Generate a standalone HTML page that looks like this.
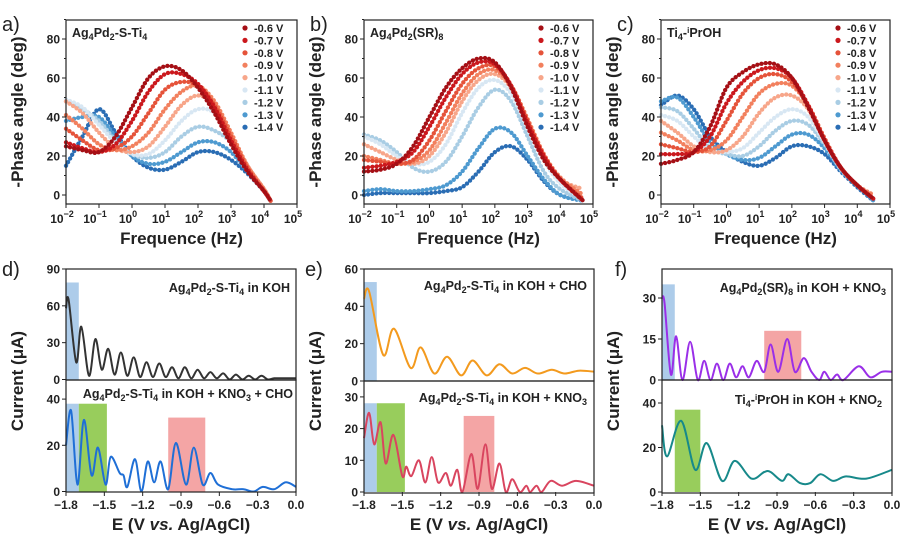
<!DOCTYPE html>
<html><head><meta charset="utf-8"><style>
body{margin:0;background:#fff}
svg{display:block;font-family:"Liberation Sans",Arial,sans-serif}
.tk{font-size:12px;font-weight:bold;fill:#222}
.ti{font-size:17px;font-weight:bold;fill:#222}
.an{font-size:12.5px;font-weight:bold;fill:#222}
.lg{font-size:11px;font-weight:bold;fill:#222}
.pl{font-size:20px;fill:#222}
</style></head><body>
<svg id="fig" width="923" height="546" viewBox="0 0 923 546">
<g id="shade"></g><g id="data"></g><g id="axes"></g>
<g id="labels">
<text class="pl" x="2" y="31">a)</text>
<text class="pl" x="310" y="31">b)</text>
<text class="pl" x="617" y="31">c)</text>
<text class="pl" x="2" y="276">d)</text>
<text class="pl" x="305" y="276">e)</text>
<text class="pl" x="615" y="276">f)</text>
<text class="an" x="72" y="37">Ag<tspan font-size="9" dy="3">4</tspan><tspan dy="-3">Pd</tspan><tspan font-size="9" dy="3">2</tspan><tspan dy="-3">-S-Ti</tspan><tspan font-size="9" dy="3">4</tspan></text>
<text class="an" x="370" y="37">Ag<tspan font-size="9" dy="3">4</tspan><tspan dy="-3">Pd</tspan><tspan font-size="9" dy="3">2</tspan><tspan dy="-3">(SR)</tspan><tspan font-size="9" dy="3">8</tspan></text>
<text class="an" x="667" y="37">Ti<tspan font-size="9" dy="3">4</tspan><tspan dy="-3">-</tspan><tspan font-size="8" dy="-4">i</tspan><tspan dy="4">PrOH</tspan></text>
<text class="an" x="290" y="292" text-anchor="end">Ag<tspan font-size="9" dy="3">4</tspan><tspan dy="-3">Pd</tspan><tspan font-size="9" dy="3">2</tspan><tspan dy="-3">-S-Ti</tspan><tspan font-size="9" dy="3">4</tspan><tspan dy="-3"> in KOH</tspan></text>
<text class="an" x="293" y="398" text-anchor="end">Ag<tspan font-size="9" dy="3">4</tspan><tspan dy="-3">Pd</tspan><tspan font-size="9" dy="3">2</tspan><tspan dy="-3">-S-Ti</tspan><tspan font-size="9" dy="3">4</tspan><tspan dy="-3"> in KOH + KNO</tspan><tspan font-size="9" dy="3">3</tspan><tspan dy="-3"> + CHO</tspan></text>
<text class="an" x="587" y="290" text-anchor="end">Ag<tspan font-size="9" dy="3">4</tspan><tspan dy="-3">Pd</tspan><tspan font-size="9" dy="3">2</tspan><tspan dy="-3">-S-Ti</tspan><tspan font-size="9" dy="3">4</tspan><tspan dy="-3"> in KOH + CHO</tspan></text>
<text class="an" x="587" y="402" text-anchor="end">Ag<tspan font-size="9" dy="3">4</tspan><tspan dy="-3">Pd</tspan><tspan font-size="9" dy="3">2</tspan><tspan dy="-3">-S-Ti</tspan><tspan font-size="9" dy="3">4</tspan><tspan dy="-3"> in KOH + KNO</tspan><tspan font-size="9" dy="3">3</tspan></text>
<text class="an" x="886" y="292" text-anchor="end">Ag<tspan font-size="9" dy="3">4</tspan><tspan dy="-3">Pd</tspan><tspan font-size="9" dy="3">2</tspan><tspan dy="-3">(SR)</tspan><tspan font-size="9" dy="3">8</tspan><tspan dy="-3"> in KOH + KNO</tspan><tspan font-size="9" dy="3">3</tspan></text>
<text class="an" x="882" y="404" text-anchor="end">Ti<tspan font-size="9" dy="3">4</tspan><tspan dy="-3">-</tspan><tspan font-size="8" dy="-4">i</tspan><tspan dy="4">PrOH in KOH + KNO</tspan><tspan font-size="9" dy="3">2</tspan></text>
</g>
</svg>
<script>
const NS="http://www.w3.org/2000/svg";
// ---- data: Bode phase (log10 frequency, -phase deg) ----
const legendLabels=["-0.6 V","-0.7 V","-0.8 V","-0.9 V","-1.0 V","-1.1 V","-1.2 V","-1.3 V","-1.4 V"];
const seriesColors=["#a50f15","#cb181d","#e5533a","#f2805e","#f7a68a","#d8e7f3","#a9cde4","#4e9ad0","#2a6db4"];
const logFreqA=[-2,-1.5,-1,-0.5,0,0.5,1,1.5,2,2.5,3,3.5,4,4.2];
const phaseA=[
[25,23,22,30,45,60,66,64,55,42,26,12,2,-3],
[27,24,22,26,38,53,62,62,57,45,28,13,2,-3],
[34,28,23,24,30,42,54,58,56,46,30,14,2,-3],
[41,34,26,23,25,32,44,53,56,48,32,15,3,-3],
[48,42,32,24,22,25,35,46,51,46,30,15,3,-3],
[49,45,36,27,21,21,28,38,44,42,30,15,3,-3],
[48,44,38,28,21,19,22,30,35,33,27,14,3,-3],
[38,40,40,30,20,16,17,22,27,27,22,12,2,-3],
[15,30,44,32,20,14,13,17,22,22,18,11,2,-3]];
const logFreqB=[-2,-1.5,-1,-0.5,0,0.5,1,1.5,2,2.5,3,3.5,4,4.7];
const phaseB=[
[12,13,16,25,40,55,65,70,68,55,35,18,8,-3],
[14,15,17,22,35,50,62,68,67,56,37,20,8,-3],
[18,17,16,18,28,43,57,65,66,56,38,20,8,-2],
[20,18,16,17,23,37,52,62,64,56,39,21,9,0],
[26,22,18,16,20,32,48,59,62,55,38,20,8,3],
[30,26,20,16,17,26,42,55,59,52,35,18,6,-2],
[31,28,22,14,12,17,30,45,54,48,30,12,3,-3],
[2,3,2,2,3,5,12,24,34,32,20,8,0,-3],
[0,1,1,1,1,2,4,12,22,25,18,7,0,-3]];
const logFreqC=[-2,-1.5,-1,-0.5,0,0.5,1,1.5,2,2.5,3,3.5,4,4.5];
const phaseC=[
[16,18,22,35,55,63,67,67,60,45,28,14,5,-2],
[21,21,22,30,47,58,64,65,60,46,28,14,5,-2],
[26,24,22,25,38,52,60,62,58,46,29,14,5,-2],
[32,28,23,23,28,40,52,57,56,46,29,14,5,0],
[38,32,25,22,23,30,42,50,51,44,28,14,5,0],
[41,38,30,23,22,24,32,40,44,40,27,14,5,-2],
[45,43,34,24,21,20,25,33,38,36,26,13,5,-2],
[48,50,40,27,21,18,19,25,31,31,24,13,5,-3],
[46,51,44,30,22,17,15,19,25,25,21,12,4,-3]];
const phaseTicks=[0,20,40,60,80];
const freqTicks=[-2,-1,0,1,2,3,4,5];
// ---- data: current vs potential ----
const potTicks=[-1.8,-1.5,-1.2,-0.9,-0.6,-0.3,0.0];
const dTopE=[-1.8,-1.78,-1.72,-1.68,-1.62,-1.57,-1.52,-1.47,-1.42,-1.37,-1.32,-1.27,-1.22,-1.17,-1.12,-1.07,-1.02,-0.97,-0.92,-0.87,-0.82,-0.77,-0.72,-0.67,-0.62,-0.57,-0.52,-0.47,-0.42,-0.37,-0.32,-0.27,-0.22,-0.17,-0.1,0];
const dTopI=[58,65,14,43,3,33,8,25,4,22,3,18,2,14,2,13,2,10,1,10,1,8,1,6,1,5,0,4,0,3,0,3,0,1,1,1];
const dBotE=[-1.8,-1.76,-1.71,-1.66,-1.6,-1.55,-1.49,-1.45,-1.38,-1.35,-1.32,-1.26,-1.21,-1.16,-1.11,-1.06,-1.0,-0.94,-0.86,-0.8,-0.73,-0.67,-0.61,-0.5,-0.41,-0.33,-0.26,-0.17,-0.08,0];
const dBotI=[20,35,3,31,7,19,3,15,8,7,2,14,0,13,4,13,1,21,3,19,3,8,3,1,1,0,2,1,4,2];
const eTopE=[-1.8,-1.76,-1.65,-1.565,-1.435,-1.356,-1.25,-1.15,-1.04,-0.95,-0.84,-0.74,-0.64,-0.54,-0.44,-0.33,-0.23,-0.12,0];
const eTopI=[44,48,14,28,7,18,4,13,3,11,3,9,4,7,4,6,4,5.5,5];
const eBotE=[-1.8,-1.76,-1.72,-1.67,-1.63,-1.57,-1.5,-1.47,-1.43,-1.37,-1.32,-1.27,-1.22,-1.16,-1.12,-1.07,-1.03,-0.96,-0.91,-0.85,-0.8,-0.74,-0.69,-0.64,-0.58,-0.53,-0.5,-0.45,-0.41,-0.34,-0.25,-0.14,0];
const eBotI=[17,25,15,22,9,18,5,8,5,10,3,11,3,6,2,7,0,12,1,15,1,9,0,4,0,2,0,2,0,3.5,2,3.5,2];
const fTopE=[-1.8,-1.78,-1.73,-1.69,-1.64,-1.58,-1.52,-1.47,-1.42,-1.37,-1.32,-1.27,-1.22,-1.17,-1.12,-1.06,-1.0,-0.95,-0.89,-0.82,-0.76,-0.69,-0.63,-0.57,-0.53,-0.48,-0.43,-0.38,-0.26,-0.17,-0.08,0];
const fTopI=[30,28,2,16,0,14,0,7,0,6,0,6,1,5,1,7,3,13,3,15,3,8,3,0,3,0,2,0,5,1,3,3];
const fBotE=[-1.8,-1.76,-1.65,-1.54,-1.45,-1.33,-1.23,-1.1,-1.0,-0.95,-0.86,-0.81,-0.72,-0.64,-0.56,-0.46,-0.36,-0.2,0];
const fBotI=[30,16,32,10,22,5,14,6,9,9,5,8,4,4,8,5,7,6,10];

const $=id=>document.getElementById(id);
function el(tag,attrs,parent,txt){const e=document.createElementNS(NS,tag);for(const k in attrs)e.setAttribute(k,attrs[k]);if(txt!==undefined)e.textContent=txt;parent.appendChild(e);return e;}
function smooth(pts){let d="M"+pts[0][0].toFixed(1)+","+pts[0][1].toFixed(1);
 for(let i=0;i<pts.length-1;i++){const p0=pts[Math.max(0,i-1)],p1=pts[i],p2=pts[i+1],p3=pts[Math.min(pts.length-1,i+2)];
 const c1=[p1[0]+(p2[0]-p0[0])/6,p1[1]+(p2[1]-p0[1])/6],c2=[p2[0]-(p3[0]-p1[0])/6,p2[1]-(p3[1]-p1[1])/6];
 d+="C"+c1.map(v=>v.toFixed(1))+" "+c2.map(v=>v.toFixed(1))+" "+p2[0].toFixed(1)+","+p2[1].toFixed(1);}return d;}
const axes=$("axes"),data=$("data"),shade=$("shade");

// ---- Bode panels ----
const bode=[{id:"a",x0:66,x1:297,lf:logFreqA,ph:phaseA},{id:"b",x0:364,x1:593,lf:logFreqB,ph:phaseB},{id:"c",x0:661,x1:890,lf:logFreqC,ph:phaseC}];
bode.forEach(P=>{
 const xs=v=>P.x0+(v+2)/7*(P.x1-P.x0), ys=v=>195-v*1.95;
 const g=el("g",{},data);
 
 
 for(let s=P.ph.length-1;s>=0;s--){
  const pts=P.lf.map((f,i)=>[xs(f),ys(P.ph[s][i])]);
  const p=el("path",{d:smooth(pts),fill:"none",stroke:seriesColors[s],"stroke-width":4.3,"stroke-linecap":"round","stroke-dasharray":"0.1 4.1"},g);
  
  
 }
 const box=el("rect",{x:P.x0,y:20,width:P.x1-P.x0,height:184,fill:"none",stroke:"#222","stroke-width":1.2},axes);
 
 
 phaseTicks.forEach(t=>{el("line",{x1:P.x0-4,x2:P.x0,y1:ys(t),y2:ys(t),stroke:"#222"},axes);
  const tx=el("text",{x:P.x0-6,y:ys(t)+4.5,class:"tk","text-anchor":"end"},axes,String(t));
  
  
  el("line",{x1:P.x0-2,x2:P.x0,y1:ys(t+10),y2:ys(t+10),stroke:"#222"},axes);});
 freqTicks.forEach(t=>{el("line",{x1:xs(t),x2:xs(t),y1:204,y2:208},axes).setAttribute("stroke","#222");
  const tx=el("text",{x:xs(t)-4,y:223,class:"tk","text-anchor":"middle"},axes,"10");
  
  
  el("tspan",{dy:-6,"font-size":9},tx,String(t).replace("-","\u2212"));});
 const xt=el("text",{x:(P.x0+P.x1)/2,y:244,class:"ti","text-anchor":"middle"},axes,"Frequence (Hz)");
 
 
 const cx=P.x0-43;
 const yt=el("text",{x:cx,y:112,class:"ti","text-anchor":"middle",transform:"rotate(-90 "+cx+" 112)"},axes,"-Phase angle (deg)");
 
 
 legendLabels.forEach((L,i)=>{const yy=28+i*12.4;const lx=P.x1-52;
  const c=el("circle",{cx:lx,cy:yy,r:2.6,fill:seriesColors[i]},axes);
  
  
  const t=el("text",{x:lx+9,y:yy+4,class:"lg"},axes,L);
  
  });
});

// ---- Current panels ----
const BLUE="#9fc3e6",GREEN="#86c440",RED="#f29595";
const cur=[
 {id:"d",x0:66,x1:296,top:{y0:269,y1:380,zero:379.5,sc:1.228,ticks:[0,30,60,90],E:dTopE,I:dTopI,c:"#333",box:[[-1.8,-1.7,79,BLUE]]},
  bot:{y0:380,y1:492,zero:491.5,sc:2.31,ticks:[0,20,40],E:dBotE,I:dBotI,c:"#1f6fd6",box:[[-1.8,-1.7,38,BLUE],[-1.7,-1.48,38,GREEN],[-1.0,-0.71,32,RED]]}},
 {id:"e",x0:364,x1:594,top:{y0:269,y1:381,zero:381,sc:1.867,ticks:[0,20,40,60],E:eTopE,I:eTopI,c:"#f39a1e",box:[[-1.8,-1.7,53,BLUE]]},
  bot:{y0:381,y1:493,zero:492,sc:3.17,ticks:[0,10,20,30],E:eBotE,I:eBotI,c:"#d9455f",box:[[-1.8,-1.7,28,BLUE],[-1.7,-1.48,28,GREEN],[-1.02,-0.78,24,RED]]}},
 {id:"f",x0:662,x1:892,top:{y0:269,y1:380,zero:380,sc:2.733,ticks:[0,15,30],E:fTopE,I:fTopI,c:"#9a2fe8",box:[[-1.8,-1.7,35,BLUE],[-1.0,-0.71,18,RED]]},
  bot:{y0:380,y1:493,zero:492,sc:2.225,ticks:[0,20,40],E:fBotE,I:fBotI,c:"#17898a",box:[[-1.7,-1.5,37,GREEN]]}}];
cur.forEach(P=>{
 const xs=v=>P.x0+(v+1.8)/1.8*(P.x1-P.x0);
 ["top","bot"].forEach(k=>{const S=P[k];const ys=v=>S.zero-v*S.sc;
  S.box.forEach(b=>{const r=el("rect",{x:xs(b[0]),y:ys(b[2]),width:xs(b[1])-xs(b[0]),height:S.zero-ys(b[2]),fill:b[3],opacity:0.85},shade);
   
   });
  const pts=S.E.map((e,i)=>[xs(e),ys(S.I[i])]);
  const p=el("path",{d:smooth(pts),fill:"none",stroke:S.c,"stroke-width":2},data);
  
  
  const fr=el("rect",{x:P.x0,y:S.y0,width:P.x1-P.x0,height:S.y1-S.y0,fill:"none",stroke:"#222","stroke-width":1.2},axes);
  
  
  S.ticks.forEach(t=>{el("line",{x1:P.x0-4,x2:P.x0,y1:ys(t),y2:ys(t),stroke:"#222"},axes);
   const tx=el("text",{x:P.x0-6,y:ys(t)+4.5,class:"tk","text-anchor":"end"},axes,String(t));
   
   });
 });
 potTicks.forEach(t=>{el("line",{x1:xs(t),x2:xs(t),y1:492,y2:496,stroke:"#222"},axes);
  const tx=el("text",{x:xs(t),y:509,class:"tk","text-anchor":"middle"},axes,t.toFixed(1).replace("-","\u2212"));
  
  });
 const xt=el("text",{x:(P.x0+P.x1)/2,y:530,class:"ti","text-anchor":"middle"},axes,"E (V ");
 
 
 el("tspan",{"font-style":"italic"},xt,"vs.");el("tspan",{},xt," Ag/AgCl)");
 const cx=P.x0-43;
 const yt=el("text",{x:cx,y:381,class:"ti","text-anchor":"middle",transform:"rotate(-90 "+cx+" 381)"},axes,"Current (\u03bcA)");
 
 
});
</script>
</body></html>
